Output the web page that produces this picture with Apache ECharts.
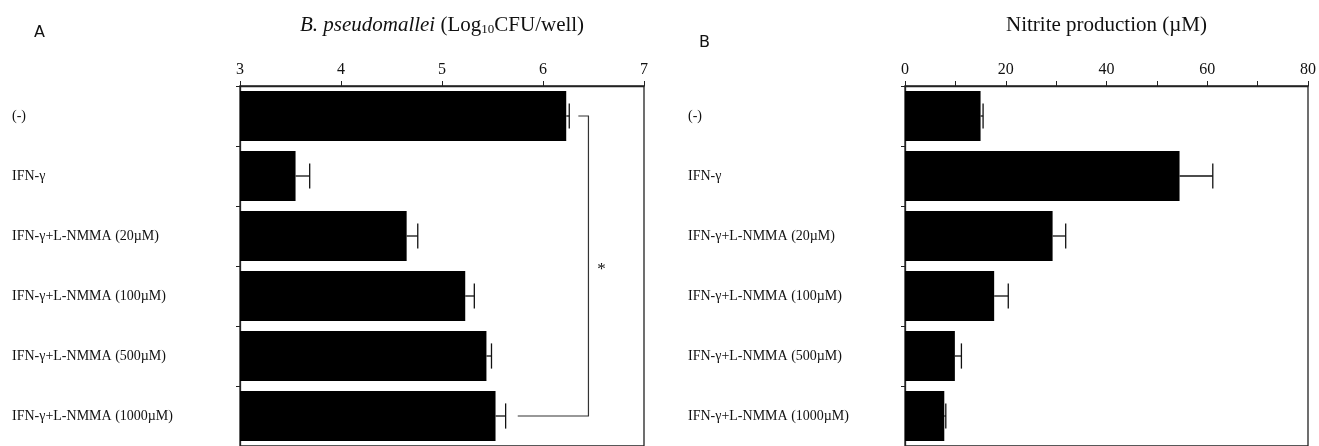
<!DOCTYPE html>
<html>
<head>
<meta charset="utf-8">
<title>B. pseudomallei / Nitrite</title>
<script src="https://cdn.jsdelivr.net/npm/echarts@6/dist/echarts.min.js"></script>
<style>
html, body { margin: 0; padding: 0; background: #fff; }
#chart { width: 1319px; height: 446px; }
</style>
</head>
<body>
<div id="chart"></div>
<script>
// data
var categories = ['(-)', 'IFN-γ', 'IFN-γ+L-NMMA (20µM)', 'IFN-γ+L-NMMA (100µM)', 'IFN-γ+L-NMMA (500µM)', 'IFN-γ+L-NMMA (1000µM)'];
var cfuMean = [6.23, 3.55, 4.65, 5.23, 5.44, 5.53];
var cfuErr = [0.03, 0.14, 0.11, 0.09, 0.05, 0.10];
var nitriteMean = [15.0, 54.5, 29.3, 17.7, 9.9, 7.8];
var nitriteErr = [0.5, 6.6, 2.6, 2.8, 1.3, 0.3];
// significance bracket between (-) and 1000µM, in log10 units
var bracketFrom = 0, bracketTo = 5;
var bracketX = [6.35, 6.45, 5.75]; // top arm start, vertical, bottom arm start
var starX = 6.58;

var serif = '"Liberation Serif", "Times New Roman", serif';
var ink = '#111';

function errData(mean, err) {
  return mean.map(function (m, i) { return [m, i, err[i]]; });
}

function renderErr(params, api) {
  var m = api.value(0), i = api.value(1), e = api.value(2);
  var p0 = api.coord([m, i]);
  var p1 = api.coord([m + e, i]);
  var h = api.size([0, 1])[1] * 0.21;
  var st = { stroke: ink, lineWidth: 1.3 };
  return {
    type: 'group',
    children: [
      { type: 'line', shape: { x1: p0[0], y1: p0[1], x2: p1[0], y2: p1[1] }, style: st },
      { type: 'line', shape: { x1: p1[0], y1: p1[1] - h, x2: p1[0], y2: p1[1] + h }, style: st }
    ]
  };
}

function renderBracket(params, api) {
  var a = api.coord([bracketX[0], bracketFrom]);
  var b = api.coord([bracketX[1], bracketFrom]);
  var c = api.coord([bracketX[1], bracketTo]);
  var d = api.coord([bracketX[2], bracketTo]);
  var s1 = api.coord([starX, 2]);
  var s2 = api.coord([starX, 3]);
  return {
    type: 'group',
    children: [
      { type: 'polyline', shape: { points: [a, b, c, d] }, style: { stroke: '#333', lineWidth: 1.2, fill: null } },
      { type: 'text', x: s1[0], y: (s1[1] + s2[1]) / 2 + 4,
        style: { text: '*', fontSize: 17, fontFamily: serif, fill: ink, align: 'center', verticalAlign: 'middle' } }
    ]
  };
}

function valueAxis(idx, min, max, interval, name, rich) {
  return {
    type: 'value', gridIndex: idx, position: 'top',
    min: min, max: max, interval: interval,
    name: name, nameLocation: 'middle', nameGap: 50,
    nameTextStyle: { fontFamily: serif, fontSize: 21, color: ink, rich: rich },
    axisLine: { show: true, lineStyle: { color: '#222', width: 1.3 } },
    axisTick: { show: true, length: 5, lineStyle: { color: '#222' } },
    minorTick: { show: idx === 1, splitNumber: 2, length: 5, lineStyle: { color: '#222' } },
    splitLine: { show: false },
    axisLabel: { margin: 8, fontFamily: serif, fontSize: 16, color: ink }
  };
}

function catAxis(idx, margin) {
  return {
    type: 'category', gridIndex: idx, inverse: true, data: categories,
    axisLine: { show: true, lineStyle: { color: '#222', width: 1.3 } },
    axisTick: { show: true, length: 4, lineStyle: { color: '#222' } },
    axisLabel: { align: 'left', margin: margin, fontFamily: serif, fontSize: 14, color: ink }
  };
}

var chart = echarts.init(document.getElementById('chart'), null, { renderer: 'canvas' });
chart.setOption({
  animation: false,
  backgroundColor: '#fff',
  grid: [
    { left: 240, top: 86, width: 404, height: 363, show: true, borderColor: '#222', borderWidth: 1.3 },
    { left: 905, top: 86, width: 404, height: 363, show: true, borderColor: '#222', borderWidth: 1.3 }
  ],
  xAxis: [
    valueAxis(0, 3, 7, 1, '{i|B. pseudomallei} (Log{s|10}CFU/well)', {
      i: { fontFamily: serif, fontSize: 21, fontStyle: 'italic', color: ink },
      s: { fontFamily: serif, fontSize: 13, color: ink, verticalAlign: 'bottom', padding: [6, 0, 0, 0] }
    }),
    valueAxis(1, 0, 80, 20, 'Nitrite production (µM)', {})
  ],
  yAxis: [catAxis(0, 228), catAxis(1, 217)],
  graphic: [
    { type: 'text', x: 34, y: 25, style: { text: 'A', fontFamily: '"DejaVu Sans", sans-serif', fontSize: 16, fill: ink } },
    { type: 'text', x: 699, y: 35, style: { text: 'B', fontFamily: '"DejaVu Sans", sans-serif', fontSize: 16, fill: ink } }
  ],
  series: [
    { type: 'bar', xAxisIndex: 0, yAxisIndex: 0, data: cfuMean, barCategoryGap: '17%', clip: true,
      itemStyle: { color: '#000' } },
    { type: 'custom', xAxisIndex: 0, yAxisIndex: 0, data: errData(cfuMean, cfuErr),
      encode: { x: 0, y: 1 }, renderItem: renderErr, z: 3 },
    { type: 'custom', xAxisIndex: 0, yAxisIndex: 0, data: [[bracketX[1], bracketFrom]],
      encode: { x: 0, y: 1 }, renderItem: renderBracket, clip: false, z: 3 },
    { type: 'bar', xAxisIndex: 1, yAxisIndex: 1, data: nitriteMean, barCategoryGap: '17%', clip: true,
      itemStyle: { color: '#000' } },
    { type: 'custom', xAxisIndex: 1, yAxisIndex: 1, data: errData(nitriteMean, nitriteErr),
      encode: { x: 0, y: 1 }, renderItem: renderErr, z: 3 }
  ]
});
</script>
</body>
</html>
